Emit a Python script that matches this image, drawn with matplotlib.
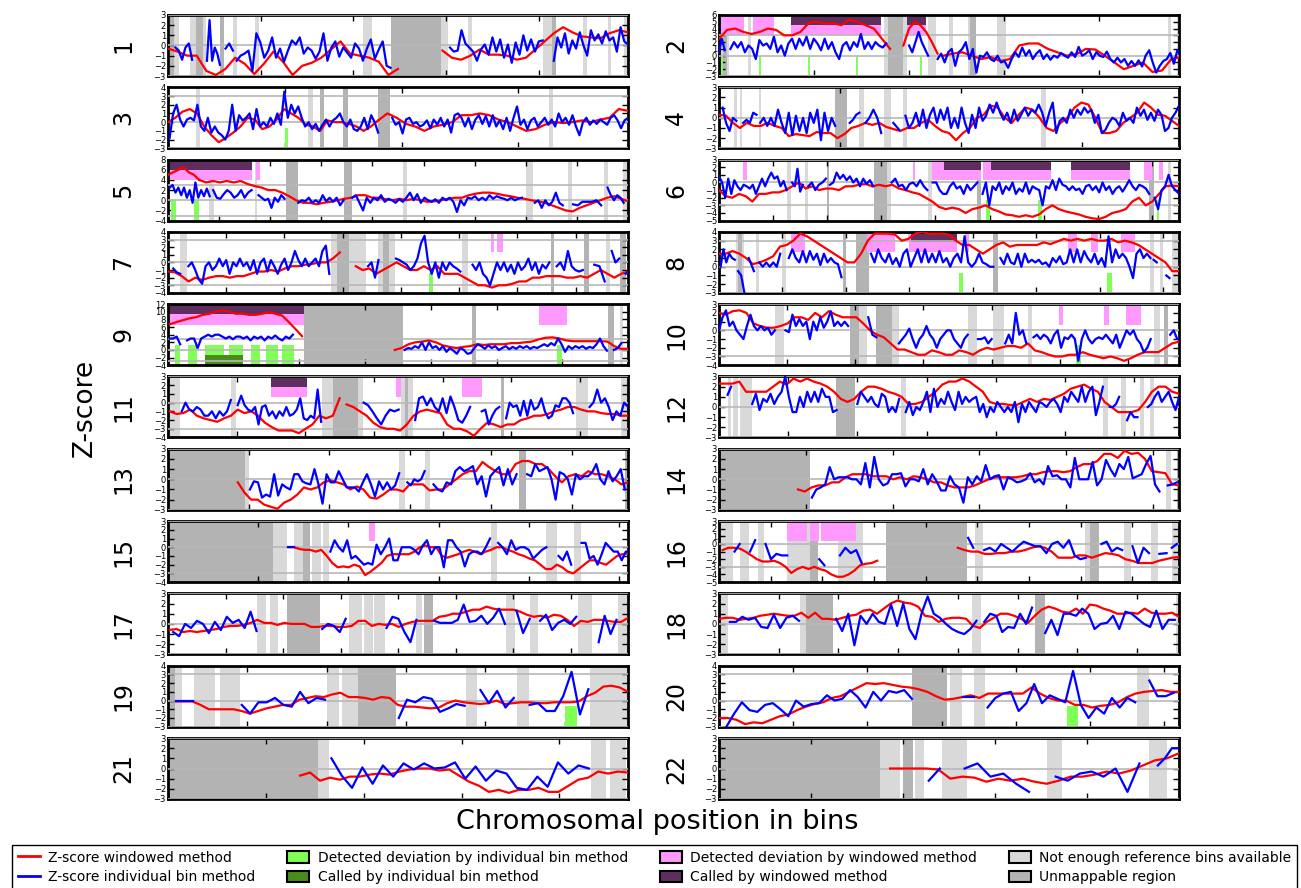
import numpy as np
import matplotlib
matplotlib.use("Agg")
import matplotlib.pyplot as plt
from matplotlib.lines import Line2D
from matplotlib.patches import Patch
from matplotlib.ticker import MaxNLocator

chrom_bins = [249, 243, 198, 191, 181, 171, 159, 146, 141, 136, 135,
              134, 115, 107, 103, 90, 81, 78, 59, 63, 48, 51]

# ymin, ymax, tick step
y_range = {1: (-3, 3, 1), 2: (-3, 6, 1), 3: (-3, 4, 1), 4: (-3, 3, 1),
           5: (-4, 8, 2), 6: (-5, 3, 1), 7: (-4, 4, 1), 8: (-3, 4, 1),
           9: (-4, 12, 2), 10: (-4, 3, 1), 11: (-4, 3, 1), 12: (-3, 3, 1),
           13: (-3, 3, 1), 14: (-3, 3, 1), 15: (-4, 3, 1), 16: (-5, 3, 1),
           17: (-3, 3, 1), 18: (-3, 3, 1), 19: (-3, 4, 1), 20: (-3, 4, 1),
           21: (-3, 3, 1), 22: (-3, 3, 1)}

# windowed z-score, segments of (first bin, last bin, values)
z_window = {
    1: [(0, 124, [-0.3, -0.6, -1.0, -1.0, -2.5, -2.9, -2.3, -1.2, -1.8, -2.8, -1.8, -0.6, -1.6, -2.9, -2.0, -1.7,
                  -1.2, -0.4, 0.4, -0.8, -1.0, -1.2, -1.6, -2.9, -2.3]),
        (148, 248, [-0.5, -1.2, -1.4, -1.0, -0.4, -0.9, -0.9, -1.0, -1.4, -1.2, -0.4, 0.4, 1.2, 1.8, 1.3, 0.9, 0.8,
                    0.7, 1.2, 1.5, 1.3])],
    2: [(0, 90, [2.5, 3.8, 4.0, 3.5, 3.2, 3.5, 4.0, 3.8, 3.0, 3.0, 3.5, 4.8, 5.0, 4.7, 4.8, 4.5, 5.3, 5.0, 4.5, 4.0,
                 2.5, 1.0]),
        (97, 115, [1.5, 4.0, 5.0, 4.5, 3.5, 2.0, 0.3]),
        (118, 243, [0.0, 0.3, 0.5, 0.0, -0.5, -0.2, -0.8, -0.5, 1.5, 1.8, 1.8, 1.0, 0.5, 0.0, 0.2, 1.0, 0.9, 0.0,
                    -1.0, -2.0, -1.5, -1.0, -2.4, -2.2, -0.5, -0.2])],
    3: [(0, 90, [0.0, 0.5, 1.2, 1.5, 1.0, -0.5, -1.5, -2.3, -1.8, -1.2, -0.5, 0.5, 0.3, -0.8, -0.5, 0.3, 1.5, 1.0,
                 0.5, -0.3, -0.5, -1.0, 0.2, 0.0, 0.0, -0.2, -0.5, -1.0, -0.5, 0.2]),
        (90, 197, [0.2, 1.0, 0.5, -0.2, -0.5, -1.0, -0.5, -0.3, 0.0, 0.8, 0.8, 1.0, 0.8, 0.3, 0.0, -0.5, -1.0, -0.8,
                   -0.3, 0.0, -0.1, 0.0, 0.2, 0.0, 0.3, 0.5, 1.5, 1.3])],
    4: [(0, 190, [0.3, 0.2, -0.5, -1.0, -0.5, -0.8, -0.8, -0.5, -0.8, -1.0, -1.8, -1.6, -1.7, -1.8, -1.4, -1.5,
                  -1.5, -2.0, -1.6, -1.0, -0.8, -0.5, -0.7, -0.5, -0.9, -1.1, -1.3, -1.0, -1.0, -0.5, -0.2, -0.8,
                  -1.3, -1.5, -2.2, -1.5, -1.0, 0.0, 0.3, 1.2, 1.0, 0.0, -0.5, 0.3, 1.0, 0.8, 0.0, -1.0, -1.3, -0.5,
                  0.0, 1.0, 1.5, 1.3, 0.0, -1.5, -1.5, -1.3, -0.5, 0.0, 0.5, 1.5, 1.0, 0.3, 0.2, -0.3, -0.8])],
    5: [(0, 12.2, [5.0, 5.5, 6.0, 6.5, 5.5, 5.0, 4.0]),
        (12.2, 180, [4.0, 3.5, 3.8, 3.5, 3.8, 3.5, 3.8, 3.2, 2.8, 2.5, 2.0, 2.0, 1.5, 0.8, 0.0, -0.5, -0.5, -0.8,
                     -0.5, -0.3, 0.0, 0.3, 0.5, 1.0, 1.0, 0.5, 0.5, 0.2, 0.0, 0.3, 0.0, 0.3, 0.0, -0.3, -0.2, 0.0,
                     0.3, 0.5, 0.5, 1.0, 1.3, 1.5, 1.5, 1.3, 1.0, 0.8, 0.5, 0.3, 0.0, -0.2, -0.5, -1.0, -1.5, -2.0,
                     -2.2, -1.5, -1.0, -0.5, 0.0, 0.5, 0.8, 0.3, -0.2])],
    6: [(0, 170, [-1.0, -1.8, -2.0, -1.5, -1.8, -2.5, -1.5, -1.5, -1.3, -1.3, -1.0, -0.5, 0.0, -0.8, -0.5, -1.0,
                  -0.8, -0.8, -1.0, -0.5, -0.5, -0.3, -0.2, -0.5, -0.3, -0.5, -0.3, -0.8, -1.0, -1.3, -1.5, -2.0,
                  -2.5, -3.2, -3.5, -3.3, -3.5, -4.0, -3.5, -3.3, -3.0, -3.5, -3.8, -4.2, -4.3, -4.5, -4.3, -4.5,
                  -4.2, -3.5, -3.0, -3.5, -3.8, -4.0, -4.2, -4.5, -4.7, -4.8, -4.5, -4.0, -3.8, -3.5, -2.5, -2.0,
                  -3.0, -2.5, -1.5, -0.5, -0.4, -0.5])],
    7: [(0, 59, [-1.2, -1.3, -1.8, -2.5, -2.0, -2.3, -2.0, -1.8, -1.8, -2.0, -1.8, -1.8, -1.5, -1.2, -1.2, -1.0,
                 -1.2, -0.8, -0.5, -0.5, -0.3, -0.2, 0.0, 0.0, 0.5, 1.3]),
        (64.5, 158, [-0.5, -1.0, -0.8, -1.5, -1.0, -0.5, 0.0, -0.5, -1.0, -1.0, -0.5, -1.0, -0.5, -1.5, -1.5, -1.5,
                     -2.0, -2.5, -3.0, -3.0, -3.3, -3.0, -3.0, -2.8, -2.5, -2.5, -2.0, -2.0, -1.8, -1.8, -1.8, -2.0,
                     -2.0, -1.8, -2.0, -1.5, -1.0, -1.5, -2.0, -1.5, -1.2])],
    8: [(0, 145, [1.5, 1.5, 1.8, 1.5, 1.0, 0.3, 0.5, 0.8, 1.2, 2.3, 2.5, 3.0, 3.8, 3.5, 3.0, 2.5, 2.0, 1.5, 1.0, 0.5,
                  0.5, 1.5, 3.0, 3.8, 3.8, 3.8, 3.7, 3.0, 3.2, 3.8, 4.0, 3.8, 3.8, 3.8, 3.7, 3.0, 2.5, 2.5, 2.0, 1.5,
                  2.0, 2.5, 2.8, 2.3, 2.5, 2.5, 2.5, 2.5, 2.8, 2.6, 2.9, 3.2, 3.0, 3.2, 3.0, 3.2, 3.0, 3.0, 3.2, 2.8,
                  3.0, 2.8, 2.5, 2.0, 1.5, 1.0, 0.5, -0.5, -0.5])],
    9: [(0.5, 40.8, [6.7, 7.3, 7.8, 8.3, 8.6, 9.2, 9.5, 10.0, 10.4, 10.0, 9.5, 9.5, 9.2, 9.2, 9.5, 9.9, 9.5, 9.0,
                     7.3, 5.5, 3.6]),
        (69, 140, [0.0, 0.5, 1.5, 2.0, 2.2, 2.5, 2.0, 1.2, 0.8, 0.5, 0.8, 1.0, 1.5, 1.3, 1.5, 1.5, 1.5, 1.8, 1.8,
                   2.0, 2.2, 2.8, 3.2, 3.3, 3.0, 2.5, 2.3, 2.3, 2.3, 2.3, 2.3, 2.2, 1.0, 0.3, 0.3])],
    10: [(0, 135, [2.0, 1.8, 2.2, 2.3, 2.0, 0.8, 0.5, 0.3, 0.3, 0.5, 0.8, 1.5, 1.5, 1.2, 2.0, 1.5, 2.2, 1.8, 1.5,
                   1.5, 1.5, 0.8, 0.0, -0.5, -0.8, -1.5, -2.2, -2.2, -2.5, -2.8, -2.8, -2.3, -2.5, -2.8, -2.8, -2.3,
                   -2.5, -2.8, -2.3, -2.0, -2.2, -2.0, -1.8, -1.8, -2.0, -1.5, -2.3, -2.5, -2.8, -3.0, -3.0, -2.8,
                   -2.8, -2.5, -2.8, -3.0, -3.2, -3.0, -3.2, -3.5, -3.2, -2.8, -2.5, -2.5, -2.5, -2.0, -1.5, -1.3])],
    11: [(0.5, 50, [-1.0, -1.3, -1.2, -0.8, -1.5, -1.8, -2.0, -2.2, -1.8, -1.5, -0.8, -1.2, -1.0, -1.5, -2.3, -2.8,
                    -3.2, -3.2, -3.2, -3.5, -3.0, -2.5, -1.5, -1.8, -1.5, 0.5]),
         (52, 134, [-0.2, -0.5, -1.0, -1.5, -2.3, -2.8, -3.0, -3.0, -3.2, -2.5, -1.5, -1.0, -0.8, -1.0, -1.2, -2.5,
                    -3.0, -3.0, -3.3, -3.8, -3.0, -2.3, -2.5, -2.8, -2.5, -2.5, -2.0, -1.8, -1.5, -1.5, -1.3, -1.0,
                    -0.8, -0.5, -0.5, -0.8, -1.0, -1.0, -1.2, -1.3, -1.3, -1.5, -1.5])],
    12: [(0, 133, [2.3, 2.3, 2.3, 2.5, 1.5, 1.5, 1.5, 1.5, 2.0, 2.5, 2.2, 2.8, 2.5, 2.8, 2.5, 2.3, 2.0, 1.5, 0.8, 0.5,
                   0.8, 1.5, 2.0, 2.0, 1.8, 1.5, 1.3, 1.0, 0.3, 0.3, 0.5, 1.0, 1.5, 2.2, 2.5, 2.5, 2.8, 2.5, 2.0, 1.5,
                   0.5, 0.3, 0.3, 0.2, 0.2, 0.5, 0.8, 0.5, 0.8, 0.7, 1.0, 1.3, 1.8, 2.0, 2.2, 1.8, 1.5, 0.5, 0.0,
                   -0.5, -0.5, -0.5, -0.3, 0.5, 1.5, 2.0, 2.0, 1.5, 1.3])],
    13: [(17.3, 114, [-0.3, -1.3, -2.0, -2.0, -2.5, -2.7, -2.9, -2.3, -2.0, -1.5, -0.8, -1.0, -0.8, -0.3, -0.1,
                      -0.3, -0.5, -1.0, -0.7, -1.0, -1.8, -1.9, -1.5, -1.0, -1.0, -1.2, -0.5, -0.5, -0.5, -1.1, -1.0,
                      -1.0, -0.5, 0.0, 0.5, 0.8, 0.8, 1.7, 1.2, 0.8, 0.5, 0.5, 1.5, 1.8, 1.8, 1.5, 1.5, 1.0, 0.3,
                      -0.3, 0.3, 0.5, 0.3, 0.8, 0.5, 0.5, 0.3, 0.0, -0.5, -0.3])],
    14: [(18.2, 106, [-1.0, -1.2, -0.8, -0.6, -0.6, -0.3, -0.3, 0.2, 0.5, 0.5, 0.5, 0.3, 0.3, 0.3, 0.0, 0.2, 0.0,
                      0.3, 0.2, 0.0, -0.3, -0.3, -0.6, -0.8, -0.8, -0.8, -0.6, -0.3, 0.0, 0.2, 0.2, 0.2, 0.2, 0.3,
                      0.5, 0.5, 0.7, 0.8, 0.8, 0.7, 0.8, 1.2, 1.5, 1.5, 1.8, 2.5, 2.5, 2.1, 2.8, 2.5, 2.6, 2.0, 0.8,
                      0.7, 0.6, -0.5, -0.6])],
    15: [(26.7, 102, [0.0, 0.0, -0.2, -0.3, -0.3, -0.5, -0.3, -1.0, -1.8, -2.3, -2.2, -2.3, -2.0, -2.2, -3.2, -2.8,
                      -2.3, -1.8, -1.0, -0.8, -0.8, -0.8, -0.8, -0.5, 0.0, 0.2, 0.0, 0.0, -1.0, -1.2, -1.0, -0.8,
                      -0.5, -0.3, -0.5, -0.8, -0.5, -0.3, 0.0, 0.0, -0.3, -0.5, -0.8, -1.0, -1.3, -1.5, -2.0, -2.5,
                      -2.5, -2.0, -2.3, -2.8, -3.0, -2.5, -2.0, -1.5, -1.5, -1.8, -2.0, -1.5, -1.0, -0.8, -0.7])],
    16: [(0.7, 30.6, [-0.8, -0.5, -0.5, -0.6, -1.0, -1.5, -2.0, -2.3, -2.3, -2.2, -2.5, -3.0, -3.8, -3.3, -3.0,
                      -3.3, -3.0, -3.3, -3.5, -4.0, -4.3, -4.3, -4.0, -3.5, -2.8, -2.6, -2.5, -2.2]),
         (46.2, 89, [-0.5, -0.8, -1.0, -1.0, -1.3, -1.3, -1.2, -1.2, -1.0, -1.0, -0.8, -0.5, -0.3, -0.5, -1.0, -1.8,
                     -1.8, -1.8, -1.5, -1.5, -1.8, -1.5, -1.2, -1.3, -1.5, -2.0, -2.2, -2.5, -2.5, -2.5, -2.2, -2.0,
                     -1.8, -1.7])],
    17: [(0.3, 80, [-0.6, -0.5, -0.8, -0.7, -0.8, -0.7, -0.6, -0.5, -0.3, -0.2, -0.2, -0.1, 0.1, 0.4, 0.1, 0.1,
                    -0.1, 0.1, 0.0, 0.0, 0.0, -0.3, -0.3, -0.2, -0.2, -0.3, -0.3, -0.2, 0.3, 0.3, -0.2, 0.0, -0.1,
                    0.0, -0.3, 0.0, 0.2, 0.3, 0.3, 0.3, 0.7, 0.8, 1.0, 1.0, 1.2, 1.4, 1.4, 1.7, 1.5, 1.4, 1.4, 1.4,
                    1.2, 0.9, 0.7, 0.8, 0.6, 0.9, 0.8, 0.4, -0.2, 0.3, 0.2, 0.4, 0.4, 0.3, 0.2, 0.2, 0.6])],
    18: [(0, 77, [0.5, 0.6, 0.6, 0.4, 0.5, 0.6, 0.8, 0.9, 1.0, 0.9, 0.8, 0.8, 1.1, 0.6, 1.1, 0.5, 0.5, 0.4, 0.6,
                  0.8, 0.9, 1.3, 1.4, 1.0, 1.5, 2.0, 2.3, 2.1, 2.0, 1.7, 0.8, 0.7, 0.2, 0.5, 0.6, 0.6, 0.5, -0.2,
                  -0.4, 0.2, 0.6, 1.0, 1.0, 0.8, 0.5, 0.1, 0.8, 1.4, 1.7, 1.5, 1.2, 1.1, 1.5, 1.0, 1.9, 1.8, 1.5,
                  1.3, 1.0, 1.0, 1.1, 1.0, 1.5, 1.1, 1.0, 1.0, 1.1, 0.7])],
    19: [(1, 58, [-0.1, -0.1, -0.1, -0.5, -1.0, -1.0, -1.0, -1.0, -1.2, -1.5, -1.2, -0.9, -0.7, -0.5, -0.5, 0.1,
                  0.3, 0.5, 0.4, 0.7, 0.9, 0.4, 0.4, 0.3, 0.1, 0.4, 0.3, -0.5, -0.7, -0.7, -0.8, -0.9, -0.8, -0.3,
                  0.0, -0.2, -0.3, -0.4, -0.3, 0.0, -0.4, -0.3, -0.2, -0.2, -0.3, -0.3, -0.2, -0.2, -0.2, -0.1,
                  0.5, 0.9, 1.6, 1.7, 1.5, 1.0])],
    20: [(0, 62, [-2.0, -2.0, -2.2, -2.7, -2.5, -2.6, -2.2, -1.8, -1.6, -1.1, -0.7, -0.4, -0.2, 0.3, 0.5, 1.0, 1.5,
                  2.0, 1.9, 2.0, 1.8, 1.6, 1.5, 1.3, 1.0, 0.5, 0.1, 0.2, 0.4, 0.6, 0.3, 0.8, 0.8, 0.8, 0.8, 0.8,
                  1.5, 0.8, 0.3, 0.0, 0.0, -0.5, -0.5, -0.8, -0.6, -0.5, -0.2, 0.4, 0.8, 1.0, 1.1, 1.2, 1.0, 1.0])],
    21: [(13.5, 47, [-0.7, -0.4, -1.2, -0.9, -1.1, -0.8, -0.8, -0.6, -0.5, -0.6, -0.3, -0.1, 0.0, 0.0, -0.2, -0.1,
                     -0.7, -1.3, -1.7, -2.3, -2.1, -2.4, -2.1, -2.1, -1.9, -2.3, -2.3, -1.7, -1.1, -0.9, -0.3, -0.5,
                     -0.3, -0.4])],
    22: [(18.6, 50, [0.0, 0.0, 0.0, 0.0, -0.1, -1.0, -0.8, -0.9, -1.3, -1.0, -1.2, -1.0, -1.3, -1.5, -1.2, -0.8,
                     -0.8, -0.6, -0.3, -0.5, -0.2, 0.3, 0.8, 1.0, 1.5])],
}

# individual bin z-score, segments of (first bin, last bin, values)
z_bin = {
    1: [(4, 13, [-0.2, -0.5, -1.4, -0.2, 0.2, -1.4]),
        (21, 28, [-1.5, 2.5, -1.5, -0.2, -0.8, -1.9]),
        (31, 35, [-0.3, 0.2, -0.5]),
        (37, 120, [-1.5, -1.0, -0.8, -0.5, -2.5, 1.2, 0.3, -1.2, -0.5, 0.8, -1.2, -0.3, -1.6, -0.5, 0.5, 0.1, 0.8,
                   -0.8, -0.2, -0.5, -1.3, -0.6, 1.2, -1.5, -0.2, 0.4, -1.1, -0.2, -0.7, -1.2, 0.2, -0.3, -1.5, -0.3,
                   0.6, -1.3, -0.4, 0.4, -2.0, -2.2]),
        (152, 202, [-0.2, -0.6, -0.5, 1.5, 0.2, -0.2, -0.6, -1.5, -0.4, 0.1, -0.9, 0.8, -0.6, 0.6, -1.2, 0.1, -1.7,
                    0.3, -0.9, 1.0, -0.5, 0.6, -0.6, 0.4, 0.5]),
        (208, 248, [-1.5, 0.8, -0.2, 1.2, -0.8, 0.5, -0.3, 1.3, 0.0, -1.0, 1.5, 0.5, 1.1, 0.2, 1.4, 0.5, 0.8, -0.6,
                    1.8, 0.4, 0.1])],
    2: [(0, 3, [0.5, 2.5, 0.8]),
        (6, 88, [1.0, 2.0, 1.2, 2.0, 0.5, 1.5, 1.0, -0.5, 2.3, 1.5, 1.8, 1.0, 2.8, 0.5, 1.5, 0.0, 1.8, 2.5, 1.0, 2.5,
                 1.5, 2.8, 1.0, 2.5, 1.8, 0.8, 2.5, 1.0, 2.0, 0.5, -0.5, 1.5, 2.0, 0.8, 2.0, 1.3, 3.2, 1.0, 2.0, 1.0,
                 2.0, 1.5, 1.2, 1.8]),
        (100, 110, [1.5, 0.5, 2.0, 3.5, 2.0, 1.0, 0.0]),
        (115, 243, [-0.5, 0.3, -1.0, 0.5, 1.0, -1.5, 0.5, 1.0, 2.0, -0.5, 1.0, -2.5, 0.0, -0.2, 0.5, -0.5, -0.8, 0.0,
                    -1.0, -0.8, -1.8, -0.5, 0.5, -0.2, 1.2, 0.0, 0.8, -0.5, 0.3, 0.8, -0.5, 0.2, -0.6, 0.0, -0.3, 0.4,
                    0.0, -0.3, 0.5, -0.2, 1.3, 0.0, 0.3, 0.8, -0.5, 0.5, 0.0, -0.2, 0.6, -0.5, -1.0, -0.3, -1.0, -0.5,
                    -1.5, -0.8, -1.5, -0.7, -1.6, 0.0, 0.8, -1.0, -2.5, -1.5, -0.8, -0.5, 0.4, -1.2, 0.8, 0.0])],
    3: [(0.7, 90, [-1.8, 1.0, 2.0, 0.3, -0.5, 0.3, 0.5, 0.2, 2.0, -0.5, -1.0, 0.5, -1.2, -0.5, -1.2, -1.5, -2.0,
                   -1.0, 2.0, -1.0, 0.8, 0.2, 0.5, 1.0, -0.8, 1.5, -0.5, 0.0, -0.5, 0.5, -0.2, 1.0, -0.3, 3.5, 0.5,
                   2.0, 1.0, 1.8, 0.5, -0.5, 0.0, -0.8, -0.2, -1.0, -0.3, 0.3, -0.5, 0.2, 0.5, 1.0, 0.0, -0.5, 0.3,
                   -0.8, -1.0, -0.5, 0.5, -0.8, 0.8, 0.0, -1.2]),
        (96, 197, [0.5, -0.3, 0.0, -1.3, 0.3, 0.5, -0.2, 0.0, -0.5, -0.3, 0.2, -0.7, 0.3, -0.3, 0.5, -0.5, 0.3, -1.2,
                   0.8, 1.0, 0.5, -0.5, 0.5, -0.8, 0.3, 0.8, -0.2, 0.7, -0.5, 0.8, -0.5, 0.2, -0.8, 0.5, -1.0, 0.5,
                   1.8, -0.3, 0.3, -0.8, 0.2, 0.5, -0.5, 0.0, 0.5, -0.3, 0.3, -0.5, 1.0, 0.0, 0.5, -0.3, 0.8, -0.5,
                   -1.5, 0.0, 0.5, -0.3, 0.2, -0.2, 0.3, 0.0, -0.3, 0.5, 0.8, 0.2, -0.7, 0.2, 0.5])],
    4: [(1.5, 7.2, [1.0, -0.5, -1.3, 0.0, -0.3]),
        (10, 15.5, [-0.5, -0.2, -0.5, 0.5, 0.3]),
        (17, 48, [-0.5, 0.0, -0.8, 0.0, -0.8, 0.8, -0.5, -1.5, 0.5, -1.7, 0.2, -1.3, 0.0, -1.5, 0.5, -0.5, 0.8, -2.2,
                  0.5, -1.3, 0.0, -0.8]),
        (54, 58, [-0.5, -0.2, 0.3, 0.5]),
        (60.5, 67, [-0.5, 0.0, 0.8, 0.0, -1.5]),
        (72, 74.5, [-0.5, -1.2]),
        (77, 190, [0.2, -1.0, -0.5, 0.5, -0.8, 0.8, -1.0, 0.3, 1.0, -0.5, 0.8, -0.2, 1.0, -1.0, 0.0, -1.0, 1.0, -0.5,
                   -1.5, 0.3, -1.0, 1.0, -0.3, 0.2, 1.3, 0.5, 1.5, 0.5, -0.2, 0.5, -0.5, 0.8, -0.3, 0.3, 1.0, 0.2,
                   0.8, 0.5, 1.3, 0.5, -0.8, 0.5, 1.5, -1.5, -0.3, 0.0, -0.5, 0.8, 0.0, 0.8, 0.3, 1.0, 0.5, 0.8, -0.5,
                   0.3, -1.5, -1.2, -0.5, 0.0, -0.2, -0.8, 0.5, -0.3, 0.0, -0.5, 1.0, 0.2, 0.8, -0.2, 0.5, -0.3, 0.8,
                   0.3, -1.3, -1.0, 0.0, 0.5, 1.2])],
    5: [(0.7, 16.3, [2.5, 3.0, 1.5, 2.5, 1.0, 2.5, 0.5, 2.0, -0.5, 3.5, 0.5, 2.0, 0.8, 2.3, 0.8]),
        (17.7, 32.7, [2.0, 0.5, 0.3, 1.2, 2.0, 1.5, 0.5, 1.0, 2.0, 0.5, 1.5, 2.0]),
        (35.4, 45.6, [1.0, 0.5, 0.0, 0.3, -1.5, 0.5, -0.3, 1.0, 0.3]),
        (51, 68.7, [-0.5, 0.0, -0.2, 0.5, -0.5, 0.0, -0.5, 1.0, -0.2, 0.5, -0.3, 0.5, -1.0, 0.0]),
        (72.1, 138.5, [0.5, 1.0, -0.5, -2.0, 0.5, -0.5, 0.5, 0.0, 1.0, -0.3, 0.3, 0.0, -0.5, 0.2, -0.3, 0.5, 1.5, 0.0,
                       1.2, -0.5, 0.5, 0.0, -0.3, 0.2, -0.5, 0.5, 0.0, 0.5, -0.3, -2.3, 0.0, -1.0, 0.5, 0.3, 0.8,
                       0.0, 0.5, 0.0, 1.0, 0.3, 0.8, 0.5, 0.3, 0.0, 0.5, 0.0, 0.3, 0.5]),
        (143.5, 154.5, [-0.5, 0.0, -1.5, 0.0, -1.0, -0.3, 1.5, -0.5, -1.0]),
        (158.5, 169.5, [-0.8, -1.0, -0.3, -0.3, -0.3, 0.0, -1.0]),
        (172, 178.3, [2.5, 1.0, 0.0, 1.0, 0.5, -0.5])],
    6: [(0, 25, [0.8, 0.0, -2.0, 0.5, -1.5, 0.3, -0.5, -1.0, -0.3, -0.5, -0.8, -0.3, -1.5, -0.5, 0.5, -0.5, 0.5,
                 1.3, 0.5, 0.8, -0.5, 0.2, -1.0]),
        (27, 31, [0.0, -0.5, 1.8, -1.2, -0.3]),
        (33, 39.5, [-0.5, 0.0, -1.0, -0.3, 0.0, 0.5]),
        (41, 57, [-0.3, 0.0, 1.3, 0.5, 1.0, 0.3, 0.8, 0.0, 0.5, -0.5, 0.5, -0.2, 0.3, -0.5]),
        (63.8, 77, [0.0, 0.5, -0.5, -0.3, -1.0, -0.2, 0.0, -0.5, 0.3, -0.5, -1.0]),
        (79, 95.5, [0.0, 0.0, -1.0, -1.5, -1.5, -0.5, 0.0, -0.8, -0.5, -1.5, -0.3, -1.0, -0.5, 0.0]),
        (97.4, 159, [-1.5, 0.0, -3.0, -0.5, -1.0, 0.0, -1.5, -0.5, -1.0, 0.0, -1.5, -0.8, -1.2, 0.0, -1.5, -0.5,
                     -0.8, -1.0, -3.0, -0.5, -0.8, 0.3, -1.0, 0.5, -0.3, -0.5, -1.0, -0.5, -1.0, -0.8, -1.5, -0.5,
                     -0.3, -1.0, -0.5, -1.3, 0.0, -1.0, -0.5, -1.5, -0.8, -0.5, -1.2, -0.5, 0.3, -0.5, -1.0, -0.3,
                     -0.5, -0.8, -1.5]),
        (161, 170, [-2.0, -3.5, -1.0, -0.5, 1.0, -0.5, -1.0, -1.5])],
    7: [(1.8, 4.2, [-0.8, -1.3, -1.5]),
        (7, 55.4, [-0.5, 0.0, -1.0, -2.2, -2.8, -0.5, 0.0, -1.0, -0.5, 0.5, -0.5, 0.3, -1.5, 0.0, -0.5, 0.5, -0.5,
                   0.0, -1.0, 0.3, -1.5, 0.0, 0.5, -1.2, 0.3, -0.5, -1.5, -0.3, 0.5, -1.0, 0.0, 1.5, 0.3, -0.5, 0.5,
                   -0.5, 0.0, 0.5, -0.5, 1.5, 2.2, -1.5]),
        (68.7, 72.3, [-0.5, 0.0, -2.0, 0.3]),
        (78.3, 100.4, [0.5, 0.3, 0.0, -0.3, -1.0, -0.5, 0.5, 2.5, 3.5, 0.0, -1.5, 0.0, -2.0, 0.0, -1.0, 0.0, -0.5,
                       -0.8, -1.2]),
        (104.6, 131, [-0.3, -1.0, 0.0, -1.5, -2.0, -3.0, -1.5, 0.0, -1.0, 0.0, -1.2, -0.3, -1.5, 0.0, -1.0, -0.5, 0.5,
                      -1.0, 0.0, -1.5, -0.3, -0.8, 0.0]),
        (133.5, 142.5, [-0.5, 0.0, -1.0, 1.5, -0.5, -1.0, -1.2, -1.0]),
        (146.4, 150, [-0.3, -0.5, -2.5]),
        (152.4, 155, [1.5, 0.0, 0.5]),
        (157.2, 158.4, [-1.5, -1.2])],
    8: [(0.5, 5, [0.0, 2.0, 0.5, 1.5, 1.0, 0.8]),
        (6, 8, [-0.5, -1.0, -3.0]),
        (9.4, 11, [1.0, -0.5]),
        (12.7, 19.3, [0.5, 0.0, 0.5, 0.0, 0.5, 0.0, 1.5]),
        (22, 38.6, [1.0, 2.0, 1.0, 0.5, 1.8, 0.5, 1.8, 0.8, 1.5, 0.2, 1.5, 0.5, 1.0, 0.5, 0.3, -1.2]),
        (47.9, 86.5, [1.5, 0.5, 2.0, 1.0, 0.5, 1.5, 0.3, 1.0, 0.0, 1.5, 2.0, 0.0, 1.0, 2.0, 0.5, 2.0, 0.5, 1.5, 0.5,
                      1.8, 0.5, 1.0, 0.0, 1.0, 1.5, 0.5, 3.5, 0.5, 0.0, 0.5, 1.5, 0.5, 0.3, 0.0, 0.0]),
        (88.7, 136, [1.0, 0.3, 1.5, 0.5, 0.3, 1.5, 0.0, 1.5, 0.5, 0.8, 0.5, 0.8, 0.3, 0.5, 0.0, 1.0, 0.5, 1.2, 0.3,
                     0.5, 2.0, 0.5, 2.0, 0.5, 1.8, 1.0, 0.5, 1.5, 0.3, 1.0, 0.0, 3.5, 0.5, 2.0, 1.0, 1.5, 1.0, 0.0,
                     -1.3, 1.5, 2.0, 1.0, 1.5, 1.0]),
        (137, 138, [0.8, 0.5]),
        (141, 142, [-1.0, -1.3])],
    9: [(0.5, 3.7, [3.0, 3.0, 3.5, 1.5]),
        (5.8, 38, [2.5, 3.0, 3.0, 0.5, 3.0, 3.5, 4.0, 3.5, 4.0, 4.0, 3.5, 3.0, 3.5, 2.8, 3.5, 3.5, 3.0, 3.5, 2.5, 3.5,
                   3.0, 3.5, 2.5, 3.5, 3.0, 3.8, 3.0, 2.5, 3.5, 3.0, 4.0]),
        (72, 133.6, [0.0, 0.5, 0.3, 1.0, 0.5, 2.0, 0.0, 2.0, 0.5, 1.0, 0.0, 1.0, -0.5, 0.5, -0.2, -1.0, 0.5, 0.0,
                     -1.0, -0.8, 0.5, 1.5, 1.0, 0.3, 1.2, 0.5, 1.0, 0.0, 0.5, 1.0, 0.2, 0.8, 0.3, 1.0, 0.5, 1.0, 0.3,
                     0.8, 0.5, 1.0, 1.5, 1.0, 1.8, 1.2, 3.0, 1.5, -0.5, 1.0, 0.3, 1.0, 0.5, 1.0, 0.3, 0.8, 0.5, 1.5,
                     3.0, 1.0, -0.2]),
        (135.7, 138, [0.0, 0.5, 1.8])],
    10: [(0, 16.4, [0.0, 1.5, 2.3, 0.5, 1.0, 0.0, -0.5, -1.0, 0.5, 1.8, 0.5, 0.0, 0.5, 0.0, 0.3, -0.5, 0.0]),
         (19.5, 37.9, [0.0, -0.2, 1.8, 0.5, 1.3, 0.5, 1.0, -1.0, 1.0, 0.0, 1.5, 0.3, 1.0, 2.2, 0.5, 1.0, 0.5, 1.0,
                       0.5]),
         (43.8, 46.2, [1.5, -0.5, -0.8]),
         (52.8, 73, [-1.5, -1.0, -0.5, 0.2, -1.0, -2.0, -1.0, -0.5, 0.5, -0.5, -1.0, -2.0, -1.0, -0.5, 0.0, 0.0,
                     -1.0, -1.5, -2.0, -1.0, -0.5]),
         (76, 80, [-1.0, -1.0, -0.8, -1.5, -1.0]),
         (84, 90.2, [-1.5, -0.5, -1.5, 2.0, -0.5, 0.0, -1.5]),
         (92.3, 126.7, [-0.8, -0.5, -1.0, -0.5, -0.8, -1.5, -0.5, 0.0, -2.0, -0.8, -1.0, -0.5, -1.0, -3.5, -1.0, 0.0,
                        -1.0, -1.5, -1.0, -0.8, -1.0, -0.5, -1.0, -1.5, -0.5, -2.0, -1.0, 0.0, -0.5, 0.0, -1.0, -1.5,
                        -2.5, -2.0, -1.0]),
         (132.4, 135.5, [-0.5, 0.0, -1.0, -1.0])],
    11: [(4, 18.3, [-1.0, 0.0, -0.8, -1.0, -0.5, -0.8, -1.5, -1.5, -1.0, -1.8, -1.0, -1.5, -1.0, 0.3]),
         (20.3, 44.6, [-0.3, 0.8, -0.3, -0.8, -1.0, -0.5, -2.5, -0.5, -0.3, -1.5, -1.0, -1.8, -1.0, -1.5, -0.5, -1.5,
                       -1.3, -0.8, 0.5, -1.8, -2.0, -1.5, -1.8, 1.5, -2.2]),
         (57, 67.2, [0.0, -0.3, -1.0, -1.8, -2.5, -1.5, -0.8, -1.0, -0.8]),
         (72, 88, [-2.0, 0.5, 0.7, -0.3, 0.5, -0.5, -1.0, 0.5, -1.2, 0.7, -0.5, -2.0, -2.3, -1.5, -0.5]),
         (91.4, 96.5, [-1.0, -0.8, -2.5, -1.5, -0.8, -0.5]),
         (98.5, 118, [-1.8, 0.0, -0.5, -0.3, -1.5, 0.2, -1.5, 0.3, -0.8, -0.5, 0.5, -1.0, -1.8, -1.5, -0.3, -0.5, 0.5,
                      0.5, 0.0, -1.2]),
         (122.8, 134, [-0.5, 0.0, 1.5, 0.0, 0.5, -0.5, -2.0, -1.0, -1.5, 0.0, -0.5])],
    12: [(2.5, 3.5, [1.2, 2.0]),
         (9.6, 34, [0.3, 1.3, -0.3, 0.8, 0.5, 1.3, 0.3, 1.0, 1.5, 3.0, 1.0, -0.5, -0.5, 1.0, 0.0, 1.5, 0.5, 1.5, 0.5,
                    1.8, 1.0, 1.0, -0.5, -0.3]),
         (40, 52.1, [0.3, 1.5, 1.0, 0.5, 1.0, 0.3, 0.0, 1.3, 1.0, -0.5, 0.0, -0.5, 0.8]),
         (54, 111, [-0.5, 0.5, -0.8, 0.0, -0.3, 0.5, 1.5, -0.5, 1.8, 0.0, 0.8, 0.3, 1.5, 0.5, -0.3, 1.5, 0.3, 1.0,
                    0.5, 0.8, 1.0, -0.5, 0.3, -1.0, 0.0, -0.5, 0.5, 0.0, -0.5, 0.0, -0.5, 0.5, -1.5, 0.3, -0.5, 0.5,
                    0.0, -0.5, 0.5, 0.3, 0.0, 0.5, 0.8, 0.3, -0.5, 1.0, 0.5, 1.5, 1.0, 0.5, 2.0, 0.5, 1.5, 2.0, -0.8,
                    0.5, 2.0]),
         (113, 115.7, [0.0, 0.0, 0.3, 1.0]),
         (118, 121, [-1.3, -0.5, -1.0, -1.0]),
         (124, 133, [0.0, 0.3, 1.0, 1.5, 0.5, 1.0, 1.5, 0.5, -0.3, 1.0])],
    13: [(20.3, 57.3, [-1.0, -0.2, -0.3, -1.8, -1.5, -1.7, 0.5, -1.6, -0.5, -0.8, -1.0, 0.5, 0.5, -0.2, -0.4, -0.5,
                       1.0, -0.5, -2.4, 0.5, -0.3, -0.3, 0.8, 0.0, -0.8, -0.8, -0.8, -1.2, -0.3, 0.5, -0.5, -1.7,
                       -0.2, -1.0, -0.3, -1.0, -0.6, 0.6]),
         (59.3, 63.6, [-0.3, -0.6, 0.0, -0.2, 0.0, 0.8]),
         (65.8, 86.4, [-0.5, -1.0, -1.2, -0.3, -0.5, 0.8, 1.2, 0.8, 1.0, 1.3, -0.5, 0.3, -1.7, 0.3, 0.8, 1.2, -0.6,
                       1.0, -0.5, 0.5]),
         (89, 113.2, [0.5, 0.3, 1.5, 0.8, 1.0, 1.2, 0.0, -2.0, 0.7, 0.5, 0.0, -1.5, 0.5, 0.0, 0.3, 0.3, 0.7, 1.5, 0.0,
                      -0.5, 0.8, -0.2, 0.3, 1.0, -1.0])],
    14: [(21.4, 101.5, [-1.8, -1.0, -0.8, -0.5, 1.2, 0.0, 0.2, 0.2, 0.2, 0.0, 0.0, -0.5, 1.6, -0.8, 2.2, 0.0, -0.6,
                        -0.4, 0.5, 0.5, 0.6, -0.7, 0.0, 0.0, -0.2, 1.0, -0.5, 0.5, -0.2, -1.1, -1.1, 0.3, -0.5, -0.8,
                        -2.3, 0.2, -0.5, 0.3, -0.2, 1.4, 0.0, 0.3, 0.4, -1.0, 0.2, 0.0, -0.3, -0.2, 0.0, 0.6, -0.3,
                        0.0, -0.5, 1.3, 0.3, 0.4, 0.0, 0.0, -0.8, 2.1, 0.0, 0.0, 0.0, 1.7, -0.6, 0.0, 1.9, 1.0, 0.3,
                        1.5, 1.0, 2.2, 0.1, 0.3, 0.5, 1.5, 2.3, -0.5, -1.2]),
         (103.4, 105.5, [-0.6, -0.5, -0.3])],
    15: [(26.7, 27.9, [0.0, 0.0]),
         (36, 71.4, [-0.5, 0.8, 0.0, -0.5, 0.8, -1.3, -1.0, -1.5, -2.0, -1.8, -2.0, 0.3, -0.8, 0.0, 1.0, -1.5, -1.5,
                     0.0, 0.0, 0.0, -0.3, -0.8, 0.2, 0.8, -0.8, 0.0, 0.0, -2.3, 0.8, 0.8, 0.0, -0.5, -2.2, -0.8, -0.5,
                     -0.5, -0.8, 0.0, 1.0]),
         (73.2, 83.9, [0.5, 0.0, -0.8, 0.8, -0.3, 0.0, 0.0, -0.3, -1.3, -0.8, -0.3, 0.0]),
         (86.6, 89.4, [-1.0, -1.5, -0.5, -2.0]),
         (91.7, 102.4, [0.5, 0.5, -1.3, -1.0, -2.0, -0.8, 0.5, 0.0, -0.5, -0.5, -1.5, -0.5, -0.5])],
    16: [(3, 4, [-1.0, 0.0]),
         (6, 7, [-1.0, 0.5]),
         (9, 13.2, [0.0, -2.0, -1.3, -1.5, -1.5]),
         (19.4, 20.4, [-2.0, -2.8]),
         (23.4, 27.6, [-1.5, -0.5, -1.2, -0.8, -2.5]),
         (48.2, 49.2, [0.8, -0.5]),
         (51.3, 71, [-0.8, -0.5, -1.0, 0.0, -0.5, -1.0, -0.3, 0.3, 0.0, -0.3, -0.3, -1.2, 0.0, 0.3, -0.5, 0.5, -1.5,
                     -2.0, -1.8]),
         (74, 78, [0.0, 0.3, -1.0, -0.5, -0.8]),
         (80, 83.2, [-0.3, -2.5, -0.5, -1.2]),
         (85.2, 86.6, [-1.3, -1.2]),
         (87.6, 88.6, [-0.5, 0.0])],
    17: [(0.9, 15.4, [-0.8, -1.2, 0.0, -0.4, 0.3, 0.0, -0.9, 0.2, -0.6, 0.7, 0.1, 0.4, -0.4, 1.2, -0.7]),
         (26.8, 30.9, [-0.5, 0.0, -0.2, -0.8, 0.5]),
         (38, 43.2, [-0.4, 0.7, 0.5, -0.8, -1.8, 0.4]),
         (46.3, 58.6, [0.3, 0.1, 0.1, 0.1, 0.4, 1.9, 0.2, 0.3, 0.8, 0.0, 0.6, 1.5, 0.0]),
         (60.6, 62.9, [1.3, -0.9, 0.5]),
         (64.7, 71, [0.3, 0.9, -0.6, 0.1, 0.4, 0.0, 0.7]),
         (74.9, 78, [-1.8, 0.8, -1.0, 0.4])],
    18: [(1.8, 13.4, [0.2, 0.2, 0.7, 0.4, 0.6, -0.3, -0.4, 0.9, -0.4, 0.6, 0.8, 0.3]),
         (19.6, 43.1, [0.5, -0.7, 1.0, -2.1, 0.8, 0.0, 1.0, 0.2, 0.0, 1.9, -0.2, 2.0, -0.5, -1.5, 1.0, 2.7, 1.0, 0.6,
                       0.0, -0.5, -0.8, -1.0, -0.5, 0.3]),
         (44.4, 52.4, [0.2, 1.0, 0.8, -0.8, -0.3, -0.4, 1.0, 0.0, 1.6]),
         (54.6, 76.3, [-0.9, 0.4, -1.1, 1.0, 1.0, 0.8, 1.5, 1.0, -0.5, 0.0, 0.1, 0.8, -0.5, 1.2, 1.0, 0.5, 0.0, -0.3,
                       1.3, -0.5, 0.4, 0.4])],
    19: [(1, 3.1, [-0.1, -0.1, -0.1]),
         (9.3, 19.8, [-0.5, -1.5, -0.2, -0.2, 0.3, -0.5, -0.7, 1.0, -0.3, 0.3, 0.1]),
         (29.1, 37.4, [-2.0, 0.1, -0.2, 0.4, 0.2, -1.3, -0.9, -0.4, -0.6]),
         (39.4, 43.6, [1.2, -0.3, 1.1, -0.8, 0.3]),
         (45.6, 53, [-0.5, -0.3, -1.2, -1.2, 0.5, 3.3, -1.6, 1.3])],
    20: [(1, 26, [-3.0, -1.5, -0.2, -1.1, -1.3, -0.5, -0.3, -1.0, -1.8, 0.0, -0.7, -0.4, -0.3, 0.6, 0.0, 0.2, 1.2,
                  0.4, -0.8, 1.0, 0.0, 1.1, 0.9, 1.2, 0.2]),
         (32.9, 34.4, [0.4, 0.4]),
         (36.2, 56.1, [-0.8, 0.3, 0.8, 1.0, -1.2, -0.3, 1.9, -0.3, 0.6, 0.2, -0.2, 3.4, -0.5, -2.0, -0.8, -1.5, 0.3,
                       -0.8, 0.3, -0.2]),
         (58, 61.3, [2.3, 0.5, 0.5, 0.9])],
    21: [(16.7, 43, [1.0, -0.7, -1.9, 0.1, -1.5, 0.3, -0.8, 0.5, -0.1, 0.5, 0.0, 0.1, 0.6, -1.0, 0.2, -1.2, -0.2,
                     -0.5, -1.9, -2.1, -0.8, -1.8, 0.6, -0.5, 0.3, 0.0])],
    22: [(22.8, 24, [-1.2, 0.0]),
         (26.7, 33.7, [0.0, 0.5, -0.8, -0.5, -1.5, -2.3]),
         (36.6, 45.7, [-0.8, -1.2, -0.5, -0.3, -0.8, 0.0, -2.3, 0.5]),
         (47.7, 50, [0.3, 1.0, 2.0, 2.0])],
}

# bin ranges
low_ref = {
    1: [(3, 6), (12, 15), (19, 20.5), (35, 37), (47, 49), (105, 110), (147, 151), (162, 164), (202, 207),
        (224, 226), (237, 239), (246, 249)],
    2: [(1, 5), (15.5, 17), (87, 89), (97, 99), (110, 114), (121, 123), (131, 132), (146, 151), (236, 238),
        (241, 243)],
    3: [(12, 13.5), (60, 62), (163, 165)],
    4: [(6, 7.5), (8.5, 9.5), (16.5, 17.5), (58, 60), (68, 71), (76, 77.5), (133, 135)],
    5: [(16, 18), (34, 35), (92, 93.5), (140, 143), (156.5, 158), (170.5, 172), (178, 181)],
    6: [(25, 26.5), (31.6, 33), (62, 63.5), (77.4, 78.7), (165.9, 167), (169.6, 171)],
    7: [(4, 6.6), (56, 58), (62, 68), (72, 74), (76, 78), (101, 103), (150.6, 151.8)],
    8: [(5.5, 6), (7.4, 8), (11.6, 12.7), (19.8, 21), (136, 137), (138.9, 140), (142.7, 146)],
    9: [(137.5, 138.5)],
    10: [(16.4, 19), (41, 43.4), (50.8, 52.8), (73, 75.7), (80.5, 83.6), (90.8, 91.8), (127.7, 129.3)],
    11: [(0, 3.6), (18.3, 19.8), (45, 48), (55.3, 56.8), (68, 71.5), (118.8, 122.3), (132, 134.5)],
    12: [(2.5, 3.5), (4, 5.5), (6, 9.6), (52.6, 54), (111, 112.5), (116.3, 117.6), (121.6, 122.8), (124.6, 125.9)],
    13: [(19, 20), (57.3, 58.8), (63.6, 64.9)],
    14: [(103, 104.2)],
    15: [(23.2, 26.3), (27.9, 29.9), (32, 34), (34.4, 35.6), (71.6, 72.9), (83.8, 86.3), (90, 91.5)],
    16: [(0, 2.7), (4, 5.8), (7.5, 8.8), (13.2, 17.7), (23, 27.8), (49.6, 51.1), (70.8, 71.8), (78.3, 79.8),
         (83.5, 85), (87.6, 90)],
    17: [(15.5, 17), (17.7, 19.2), (31.4, 33.8), (34.1, 35.6), (35.9, 37.8), (43.2, 44.2), (58.8, 60.3),
         (63, 64.4), (71.3, 73.7), (78.3, 79.8)],
    18: [(0, 1.5), (13.5, 14.5), (42.4, 43.9), (76.5, 78)],
    19: [(0.9, 1.8), (3.3, 5.9), (6.5, 9.1), (20, 21.5), (22, 24), (37.6, 39), (44, 45.5), (53.2, 59)],
    20: [(31.2, 32.8), (34.4, 35.9), (56.3, 57.9), (61.8, 62.4)],
    21: [(15.3, 16.4), (43.2, 44.8), (45.2, 46.8)],
    22: [(17.5, 19.7), (21.3, 22.3), (24.2, 27), (35.6, 37.3), (46.7, 48.7), (50, 51)],
}

unmappable = {
    1: [(1, 3), (15, 19), (28, 30), (120, 147), (207, 209)],
    2: [(2, 4), (89, 97), (132, 135)],
    3: [(65, 67), (75, 77), (90, 95)],
    4: [(48, 53)],
    5: [(46, 51), (69, 72)],
    6: [(40, 40.8), (57.4, 62), (95.5, 97), (159, 160.6)],
    7: [(58, 62), (74, 76), (131.5, 132.7), (143, 144.6), (155.4, 157.2)],
    8: [(6, 7.4), (39, 40), (43.3, 47.4), (86.5, 88)],
    9: [(41.3, 71.6), (92.4, 93.8), (134, 135.7)],
    10: [(38.3, 41), (46, 50.8), (130.6, 131.8)],
    11: [(48, 55.3), (69, 70), (97, 98)],
    12: [(33.9, 39.4)],
    13: [(0, 19), (86.9, 88.7), (113.3, 115)],
    14: [(0, 21), (105.5, 107)],
    15: [(0, 23.2), (29.9, 31.4)],
    16: [(17.7, 19.2), (32.3, 47.9), (71.8, 73.5)],
    17: [(20.7, 26.5), (44.5, 46)],
    18: [(14.5, 19.1), (52.9, 54.5)],
    19: [(0, 0.9), (24, 28.8)],
    20: [(26, 30.7), (62.4, 63)],
    21: [(0, 15.3)],
    22: [(0, 17.5), (20, 21.1)],
}

win_detect = {
    2: [(1, 13), (18, 29), (38, 85), (99, 109)],
    5: [(0, 33), (34.5, 36)],
    6: [(9, 10.3), (71.6, 72.6), (78.7, 96.8), (97.4, 122.6), (130, 152), (157, 160), (162.6, 164)],
    7: [(111, 112), (113, 115)],
    8: [(22.6, 27), (46.8, 55.6), (60, 75), (77.7, 78.8), (110, 113), (117.4, 119.6), (126.7, 131)],
    9: [(0, 41.3), (113, 121.4)],
    10: [(99.7, 101), (113, 114.4), (119.5, 123.8)],
    11: [(30, 40.6), (66.5, 67.8), (85.6, 91.4)],
    15: [(44.5, 46)],
    16: [(13.2, 17), (17.7, 19.4), (19.7, 26.5)],
}
win_called = {
    2: [(38, 85), (99, 109)],
    5: [(0, 33)],
    6: [(83, 97), (100.6, 122.6), (130, 152)],
    8: [(60.6, 75)],
    9: [(0, 41.3)],
    11: [(30, 40.6)],
}
bin_detect = {
    2: [(1, 2.3), (21, 22), (47, 48), (72, 73), (106, 107)],
    3: [(50, 51.5)],
    5: [(1, 3), (10, 12)],
    6: [(98.7, 100), (118, 119.3), (162, 162.6)],
    7: [(89.6, 91)],
    8: [(75.5, 77), (122.3, 124)],
    9: [(2, 3.7), (6.1, 8.7), (11.4, 17), (18.5, 22.8), (25.4, 28), (29.7, 33.4), (34.8, 38.2), (118.5, 119.8)],
    10: [(104.8, 106.2)],
    19: [(50, 51.6)],
    20: [(46.9, 48.4)],
}
bin_called = {
    9: [(11.4, 22.8)],
}

C_LOWREF = '#d9d9d9'
C_UNMAP = '#b3b3b3'
C_WDET = '#ff99ff'
C_WCALL = '#5e2f5e'
C_BDET = '#80ff55'
C_BCALL = '#4a8c1c'

W, H = 1301.0, 888.0
fig = plt.figure(figsize=(W / 100, H / 100), dpi=100)

for i, n in enumerate(chrom_bins):
    c = i + 1
    row, col = divmod(i, 2)
    left = 168 if col == 0 else 719
    top = 15 + row * 72.3
    ax = fig.add_axes([left / W, 1 - (top + 61) / H, 460 / W, 61 / H])

    for a, b in low_ref.get(c, []):
        ax.axvspan(a, b, color=C_LOWREF, lw=0, zorder=1)
    for a, b in unmappable.get(c, []):
        ax.axvspan(a, b, color=C_UNMAP, lw=0, zorder=1.1)
    for a, b in win_detect.get(c, []):
        ax.axvspan(a, b, ymin=2 / 3, ymax=1, color=C_WDET, lw=0, zorder=2)
    for a, b in win_called.get(c, []):
        ax.axvspan(a, b, ymin=5 / 6, ymax=1, color=C_WCALL, lw=0, zorder=2.1)
    for a, b in bin_detect.get(c, []):
        ax.axvspan(a, b, ymin=0, ymax=1 / 3, color=C_BDET, lw=0, zorder=2)
    for a, b in bin_called.get(c, []):
        ax.axvspan(a, b, ymin=0, ymax=1 / 6, color=C_BCALL, lw=0, zorder=2.1)

    for h in (-3, 0, 3):
        ax.axhline(h, color='#b8b8b8', lw=1.2, zorder=3)

    for a, b, vals in z_window.get(c, []):
        ax.plot(np.linspace(a, b, len(vals)), vals, color='#ff0000', lw=1.6, zorder=4)
    for a, b, vals in z_bin.get(c, []):
        ax.plot(np.linspace(a, b, len(vals)), vals, color='#0000ff', lw=1.6, zorder=5)

    lo, hi, st = y_range[c]
    ax.set_xlim(0, n - 1)
    ax.set_ylim(lo, hi)
    ax.set_yticks(np.arange(lo, hi + 0.5, st))
    ax.xaxis.set_major_locator(MaxNLocator(nbins=9, steps=[1, 2, 5, 10]))
    ax.tick_params(axis='both', direction='in', top=True, right=True, length=4, width=1,
                   labelsize=6, pad=1.5, labelbottom=False)
    for sp in ax.spines.values():
        sp.set_linewidth(2)
    lx = (123 - 168) / 460 if col == 0 else (676 - 719) / 460
    ax.text(lx, 0.5, str(c), rotation=90, ha='center', va='center', fontsize=17,
            transform=ax.transAxes)

fig.text(85 / W, 1 - 408 / H, 'Z-score', rotation=90, ha='center', va='center', fontsize=19)
fig.text(657 / W, 1 - 822 / H, 'Chromosomal position in bins', ha='center', va='center', fontsize=19.5)

handles = [
    Line2D([], [], color='#ff0000', lw=2),
    Line2D([], [], color='#0000ff', lw=2),
    Patch(facecolor=C_BDET, edgecolor='black', lw=1.5),
    Patch(facecolor=C_BCALL, edgecolor='black', lw=1.5),
    Patch(facecolor=C_WDET, edgecolor='black', lw=1.5),
    Patch(facecolor=C_WCALL, edgecolor='black', lw=1.5),
    Patch(facecolor=C_LOWREF, edgecolor='black', lw=1.5),
    Patch(facecolor=C_UNMAP, edgecolor='black', lw=1.5),
]
labels = ['Z-score windowed method', 'Z-score individual bin method',
          'Detected deviation by individual bin method', 'Called by individual bin method',
          'Detected deviation by windowed method', 'Called by windowed method',
          'Not enough reference bins available', 'Unmappable region']
leg_h = 0.01
leg = fig.legend(handles, labels, loc='upper left', ncol=4, mode='expand',
                 bbox_to_anchor=(12 / W, 1 - 845 / H - leg_h, 1285 / W, leg_h),
                 fontsize=10, fancybox=False, edgecolor='black', framealpha=1, borderaxespad=0,
                 handlelength=1.6, handleheight=0.9, handletextpad=0.6, labelspacing=0.4,
                 borderpad=0.4)
leg.get_frame().set_linewidth(1)

fig.savefig('out.png', dpi=100)
